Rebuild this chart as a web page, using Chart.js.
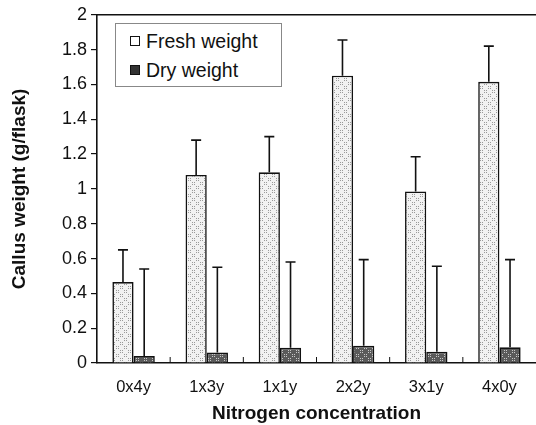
<!DOCTYPE html>
<html>
<head>
<meta charset="utf-8">
<script src="https://cdn.jsdelivr.net/npm/chart.js@4/dist/chart.umd.min.js"></script>
<style>
  html, body { margin: 0; padding: 0; background: #fff; }
  #wrap { position: relative; width: 536px; height: 425px; }
  #legend {
    position: absolute; left: 115px; top: 23px; width: 167px; height: 64px;
    border: 1px solid #888; background: #fff; box-sizing: border-box;
    font-family: "Liberation Sans", Arial, sans-serif; font-size: 19.5px; color: #111;
  }
  #legend div { position: absolute; left: 14px; line-height: 22px; white-space: nowrap; }
  #legend span.sw { display: inline-block; width: 8px; height: 8px; border: 1.5px solid #111; margin-right: 6px; vertical-align: 2px; }
</style>
</head>
<body>
<div id="wrap">
  <canvas id="chart" width="536" height="425"></canvas>
  <div id="legend">
    <div style="top:6px"><span class="sw" style="background:#fff"></span>Fresh weight</div>
    <div style="top:35px"><span class="sw" style="background:#333"></span>Dry weight</div>
  </div>
</div>
<script>
const categories = ['0x4y', '1x3y', '1x1y', '2x2y', '3x1y', '4x0y'];
const freshWeight = [0.465, 1.08, 1.095, 1.65, 0.985, 1.615];
const freshError = [0.185, 0.2, 0.205, 0.205, 0.2, 0.205];
const dryWeight = [0.04, 0.06, 0.087, 0.099, 0.065, 0.09];
const dryError = [0.5, 0.49, 0.493, 0.495, 0.491, 0.504];
const yTicks = [0, 0.2, 0.4, 0.6, 0.8, 1, 1.2, 1.4, 1.6, 1.8, 2];

const FONT = '"Liberation Sans", Arial, sans-serif';

function makePattern(base, dot, step) {
    const c = document.createElement('canvas');
    c.width = 8; c.height = 8;
    const g = c.getContext('2d');
    g.fillStyle = base;
    g.fillRect(0, 0, 8, 8);
    g.fillStyle = dot;
    for (let i = 0; i < 8; i += step) {
        g.fillRect(i, (8 - i) % 8, 1, 1);
        g.fillRect((i + 4) % 8, (i + 2) % 8, 1, 1);
    }
    return g.createPattern(c, 'repeat');
}

const errorBars = {
    id: 'errorBars',
    afterDatasetsDraw(chart) {
        const ctx = chart.ctx;
        const y = chart.scales.y;
        const x = chart.scales.x;
        const area = chart.chartArea;
        ctx.save();
        ctx.strokeStyle = '#111';
        ctx.lineWidth = 1.6;
        [freshError, dryError].forEach((errs, di) => {
            const meta = chart.getDatasetMeta(di);
            meta.data.forEach((bar, i) => {
                const top = y.getPixelForValue(chart.data.datasets[di].data[i] + errs[i]);
                ctx.beginPath();
                ctx.moveTo(bar.x, bar.y);
                ctx.lineTo(bar.x, top);
                ctx.moveTo(bar.x - 5, top);
                ctx.lineTo(bar.x + 5, top);
                ctx.stroke();
            });
        });
        // small inward ticks at category boundaries
        ctx.lineWidth = 1;
        for (let i = 1; i < categories.length; i++) {
            const px = (x.getPixelForValue(i - 1) + x.getPixelForValue(i)) / 2;
            ctx.beginPath();
            ctx.moveTo(px, area.bottom);
            ctx.lineTo(px, area.bottom - 6);
            ctx.stroke();
        }
        // top frame
        ctx.lineWidth = 1.5;
        ctx.beginPath();
        ctx.moveTo(area.left, area.top);
        ctx.lineTo(area.right, area.top);
        ctx.stroke();
        ctx.restore();
    }
};

const canvas = document.getElementById('chart');
const ctx = canvas.getContext('2d');

new Chart(ctx, {
    type: 'bar',
    data: {
        labels: categories,
        datasets: [
            {
                label: 'Fresh weight',
                data: freshWeight,
                backgroundColor: makePattern('#f2f2f2', '#9a9a9a', 2),
                borderColor: '#111',
                borderWidth: 1.6,
                borderSkipped: 'bottom',
                categoryPercentage: 0.58,
                barPercentage: 1,
            },
            {
                label: 'Dry weight',
                data: dryWeight,
                backgroundColor: makePattern('#5a5a5a', '#c8c8c8', 2),
                borderColor: '#111',
                borderWidth: 1.6,
                borderSkipped: 'bottom',
                categoryPercentage: 0.58,
                barPercentage: 1,
            },
        ],
    },
    options: {
        responsive: false,
        animation: false,
        layout: { padding: { top: 13, right: 0, left: 0, bottom: 0 } },
        plugins: {
            legend: { display: false },
            tooltip: { enabled: false },
        },
        scales: {
            x: {
                grid: { display: false },
                border: { display: true, color: '#111', width: 1.6 },
                ticks: { color: '#111', font: { family: FONT, size: 16.5 }, padding: 7 },
                title: {
                    display: true,
                    text: 'Nitrogen concentration',
                    color: '#111',
                    font: { family: FONT, size: 19, weight: 'bold' },
                    padding: { top: 8, bottom: 0 },
                },
                afterFit(scale) { scale.height = 62; },
            },
            y: {
                min: 0,
                max: 2,
                afterBuildTicks(scale) { scale.ticks = yTicks.map(v => ({ value: v })); },
                grid: { drawOnChartArea: false, tickLength: 6, color: '#111', lineWidth: 1.2 },
                border: { display: true, color: '#111', width: 1.6 },
                ticks: {
                    color: '#111',
                    font: { family: FONT, size: 18 },
                    padding: 4,
                    callback: v => String(v),
                },
                title: {
                    display: true,
                    text: 'Callus weight (g/flask)',
                    color: '#111',
                    font: { family: FONT, size: 19, weight: 'bold' },
                    padding: { top: 8, bottom: 0 },
                },
                afterFit(scale) { scale.width = 97; },
            },
        },
    },
    plugins: [errorBars],
});
</script>
</body>
</html>
